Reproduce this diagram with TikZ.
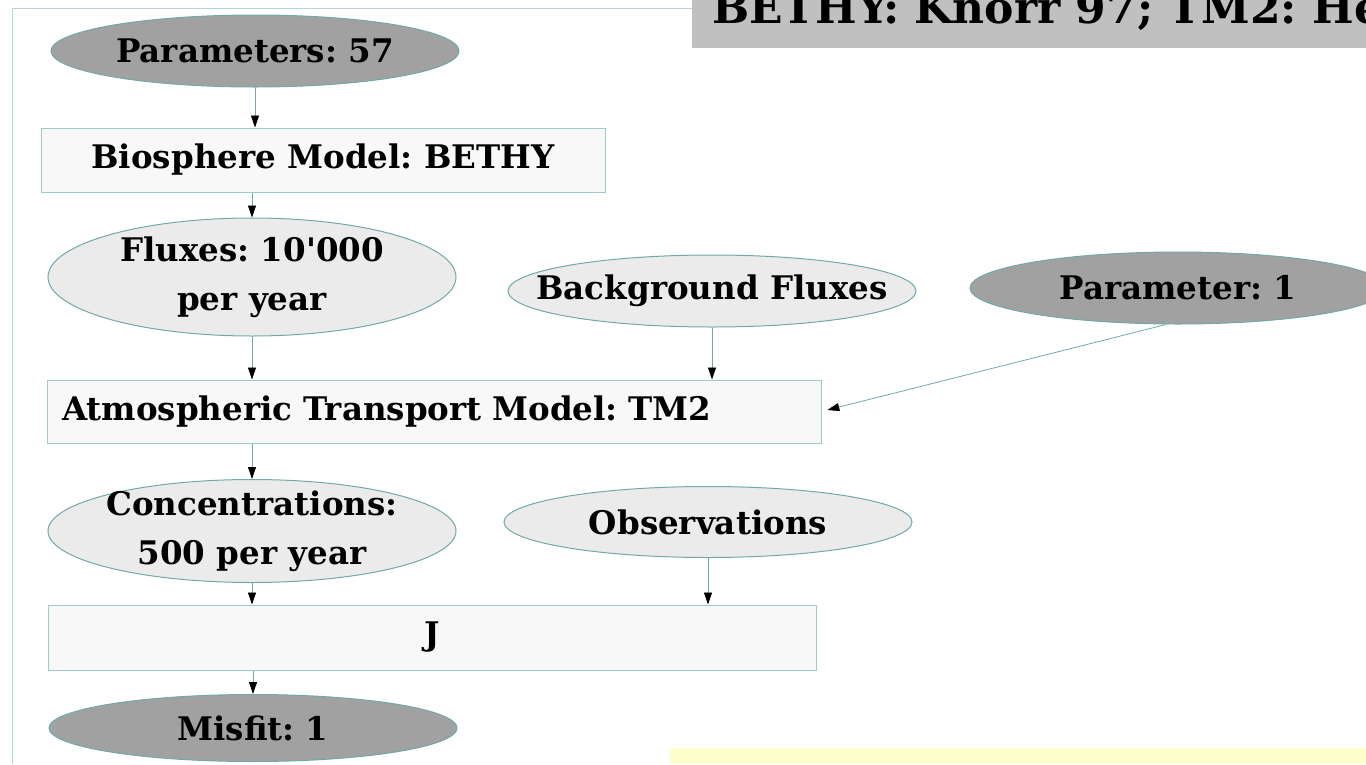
\documentclass[tikz,border=0pt]{standalone}
\usepackage{fontspec}
\setmainfont{DejaVu Serif}
\usetikzlibrary{shapes.geometric, arrows.meta}

\definecolor{darkgrey}{HTML}{A1A1A1}
\definecolor{lightgrey}{HTML}{EBEBEB}
\definecolor{boxgrey}{HTML}{F8F8F8}
\definecolor{tealline}{HTML}{6FA9A9}
\definecolor{boxline}{HTML}{9FCACA}
\definecolor{frameline}{HTML}{B5D6D6}
\definecolor{bannergrey}{HTML}{C0C0C0}
\definecolor{noteyellow}{HTML}{FFFFCC}

\begin{document}
\frenchspacing
\begin{tikzpicture}[x=1pt, y=-1pt,
    txt/.style={font=\bfseries\fontsize{32.5}{49}\selectfont, align=center},
    dataell/.style={ellipse, draw=tealline, line width=1pt, fill=lightgrey,
      inner sep=0pt, minimum width=408pt, minimum height=72pt,
      label={[txt]center:{#1}}},
    parell/.style={dataell={#1}, fill=darkgrey},
    modelbox/.style={txt, rectangle, draw=boxline, fill=boxgrey,
      line width=1pt, inner sep=0pt},
    flow/.style={draw=tealline, line width=0.8pt,
      -{Triangle[length=12pt, width=8pt, color=black]}}]
  \useasboundingbox (0,0) rectangle (1366,764);
  \clip (0,0) rectangle (1366,764);
  \draw[frameline, line width=1pt] (12,764) -- (12,8) -- (692,8);
  \fill[bannergrey] (692,0) rectangle (1366,48);
  \node[anchor=base west, inner sep=0pt,
    font=\bfseries\fontsize{44}{44}\selectfont] (refs) at (712,23)
    {BETHY: Knorr 97; TM2: He};
  \fill[noteyellow] (670,748) rectangle (1366,764);

  \node[parell={Parameters: 57}] (p57) at (255,51) {};
  \node[modelbox, minimum width=564pt, minimum height=64pt] (bethy)
    at (323,160) {Biosphere Model: BETHY};
  \node[dataell={Fluxes: 10\textquotesingle 000\\per year},
    minimum height=118pt] (fluxes) at (252,277) {};
  \node[dataell={Background Fluxes}] (bg) at (712,291) {};
  \node[parell={Parameter: 1}, minimum width=416pt] (par1) at (1178,288) {};
  \node[modelbox, minimum width=774pt, minimum height=63pt,
    text width=744pt, inner xsep=15pt, align=left] (tm2)
    at (434,411.5) {Atmospheric Transport Model: TM2};
  \node[dataell={Concentrations:\\500 per year}, minimum height=103pt] (conc)
    at (252,531) {};
  \node[dataell={Observations}, minimum height=71pt] (obs) at (708,522) {};
  \node[modelbox, minimum width=768pt, minimum height=65pt] (J)
    at (432,637.5) {J};
  \node[parell={Misfit: 1}, minimum height=67pt] (misfit) at (253,728) {};

  \draw[flow] (p57.south) -- (p57.south |- bethy.north);
  \draw[flow] (fluxes.north |- bethy.south) -- (fluxes.north);
  \draw[flow] (fluxes.south) -- (fluxes.south |- tm2.north);
  \draw[flow] (bg.south) -- (bg.south |- tm2.north);
  \draw[flow, shorten >=6pt] ([xshift=-12pt]par1.south) -- (tm2.east);
  \draw[flow] (conc.north |- tm2.south) -- (conc.north);
  \draw[flow] (conc.south) -- (conc.south |- J.north);
  \draw[flow] (obs.south) -- (obs.south |- J.north);
  \draw[flow] (misfit.north |- J.south) -- (misfit.north);
\end{tikzpicture}
\end{document}
